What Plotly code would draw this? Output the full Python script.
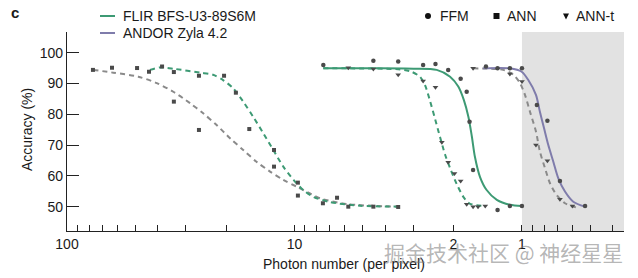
import plotly.graph_objects as go
import math

# ---------------- data ----------------
# FLIR BFS-U3-89S6M
flir_ffm_x = [7.47, 4.5, 3.5, 2.72, 2.40, 2.11, 1.86, 1.75, 1.70, 1.64, 1.28, 1.13, 1.0]
flir_ffm_y = [96.0, 97.4, 97.1, 96.0, 96.3, 94.4, 91.5, 87.3, 77.6, 61.9, 48.9, 50.2, 50.2]
flir_annt_x = [5.8, 4.5, 3.5, 2.72, 2.40, 2.25, 2.11, 1.98, 1.86, 1.75, 1.64, 1.56, 1.45]
flir_annt_y = [95.1, 94.7, 92.8, 90.8, 88.8, 70.9, 64.4, 60.8, 58.3, 50.8, 50.0, 50.0, 50.2]
flir_ann_x = [43.6, 38.2, 33.9, 26.3, 20.4, 18.1, 15.8, 12.3, 9.66, 6.5]
flir_ann_y = [93.8, 95.5, 93.7, 92.5, 92.5, 87.0, 75.2, 68.4, 57.8, 52.9]

# ANDOR Zyla 4.2
andor_ffm_x = [1.44, 1.28, 1.13, 1.0, 0.86, 0.773, 0.681, 0.528]
andor_ffm_y = [95.5, 94.9, 94.9, 94.9, 83.0, 77.9, 58.3, 50.2]
andor_annt_x = [1.64, 1.13, 1.0, 0.868, 0.773, 0.681, 0.60]
andor_annt_y = [94.9, 93.1, 90.6, 70.0, 64.9, 52.4, 50.2]
andor_ann_x = [76.9, 63.4, 49.2, 33.9, 26.3, 12.3, 9.66, 7.5, 5.8, 4.5, 3.5]
andor_ann_y = [94.4, 95.1, 95.0, 84.1, 74.9, 63.0, 53.6, 51.1, 50.0, 50.0, 49.9]

# fitted curves
flir_ann_fit_x = [43.2, 39.0, 33.5, 26.0, 22.8, 20.6, 18.6, 16.8, 15.2, 13.7, 12.4, 11.2, 10.1, 9.15, 8.27, 6.98, 5.15, 3.5]
flir_ann_fit_y = [94.4, 95.2, 94.7, 93.5, 92.8, 91.1, 88.4, 84.1, 79.2, 73.8, 68.4, 63.0, 58.7, 55.4, 53.2, 51.5, 50.3, 50.0]
andor_ann_fit_x = [76.6, 62.6, 48.6, 40.3, 34.1, 28.8, 25.2, 22.0, 19.2, 16.8, 14.7, 12.8, 11.2, 9.78, 8.55, 7.72, 5.8, 3.5]
andor_ann_fit_y = [94.4, 93.5, 92.2, 90.1, 87.3, 83.6, 80.3, 76.5, 72.2, 68.4, 64.6, 61.4, 58.7, 56.5, 54.3, 52.7, 50.8, 50.0]
flir_ffm_fit_x = [7.47, 4.5, 3.0, 2.37, 2.07, 1.905, 1.80, 1.72, 1.66, 1.61, 1.53, 1.43, 1.29, 1.13, 1.0]
flir_ffm_fit_y = [94.9, 94.9, 94.8, 94.4, 92.2, 89.0, 84.6, 79.2, 72.7, 66.2, 59.7, 55.4, 52.2, 50.6, 50.2]
flir_annt_fit_x = [7.47, 5.8, 3.5, 3.11, 2.81, 2.67, 2.54, 2.41, 2.29, 2.18, 2.07, 1.94, 1.81, 1.70, 1.45]
flir_annt_fit_y = [94.9, 94.9, 94.6, 94.0, 92.2, 89.5, 84.5, 78.5, 72.5, 67.0, 62.5, 57.5, 53.2, 51.0, 50.2]
andor_ffm_fit_x = [1.48, 1.13, 1.003, 0.938, 0.868, 0.834, 0.80, 0.766, 0.728, 0.692, 0.647, 0.595, 0.528]
andor_ffm_fit_y = [94.9, 94.9, 93.8, 91.1, 86.3, 80.8, 75.5, 70.0, 64.6, 59.2, 54.9, 51.6, 50.0]
andor_annt_fit_x = [1.64, 1.21, 1.09, 1.02, 0.97, 0.922, 0.868, 0.834, 0.792, 0.753, 0.704, 0.647, 0.575]
andor_annt_fit_y = [94.9, 94.4, 92.8, 90.1, 86.3, 80.8, 74.4, 67.9, 62.5, 57.6, 53.8, 51.1, 49.7]

x_tick_vals = [100, 90, 80, 70, 60, 50, 40, 30, 20, 10, 9, 8, 7, 6, 5, 4, 3, 2, 1, 0.9, 0.8, 0.7, 0.6, 0.5, 0.4]
x_tick_labels = {100: "100", 10: "10", 2: "2", 1: "1"}
y_tick_vals = [50, 60, 70, 80, 90, 100]

camera_names = ["FLIR BFS-U3-89S6M", "ANDOR Zyla 4.2"]
method_names = ["FFM", "ANN", "ANN-t"]
watermark = "掘金技术社区 @ 神经星星"

# ---------------- styles ----------------
W, H = 638, 278
ML, MR, MT, MB = 67, 14, 32, 47
GREEN = "#3d9a74"
PURPLE = "#7f7cab"
GRAYL = "#8a8a8a"
MK = "#4a4a4a"
FONT = "Liberation Sans, Arial, sans-serif"
X_RANGE = [2.0, math.log10(0.356)]
Y_RANGE = [42.1, 106.7]

fig = go.Figure()

def curve(x, y, color, dash):
    fig.add_trace(go.Scatter(x=x, y=y, mode="lines", line=dict(color=color, width=2, dash=dash,
                             shape="spline", smoothing=0.8), hoverinfo="skip", showlegend=False))

def pts(x, y, symbol, size):
    fig.add_trace(go.Scatter(x=x, y=y, mode="markers",
                             marker=dict(symbol=symbol, size=size, color=MK, line=dict(width=0)),
                             showlegend=False))

DASH = "5px,4px"
curve(andor_ann_fit_x, andor_ann_fit_y, GRAYL, DASH)
curve(flir_ann_fit_x, flir_ann_fit_y, GREEN, DASH)
curve(flir_annt_fit_x, flir_annt_fit_y, GREEN, DASH)
curve(flir_ffm_fit_x, flir_ffm_fit_y, GREEN, "solid")
curve(andor_annt_fit_x, andor_annt_fit_y, GRAYL, DASH)
curve(andor_ffm_fit_x, andor_ffm_fit_y, PURPLE, "solid")

pts(flir_ann_x, flir_ann_y, "square", 4)
pts(andor_ann_x, andor_ann_y, "square", 4)
pts(flir_ffm_x, flir_ffm_y, "circle", 4.5)
pts(andor_ffm_x, andor_ffm_y, "circle", 4.5)
pts(flir_annt_x, flir_annt_y, "triangle-down", 5)
pts(andor_annt_x, andor_annt_y, "triangle-down", 5)

pw, ph = W - ML - MR, H - MT - MB
def px(x):
    return (x - ML) / pw
def py(y):
    return (H - MB - y) / ph

shapes = []
# shaded region below 1 photon
shapes.append(dict(type="rect", xref="x domain", yref="y domain",
                   x0=(X_RANGE[0] - math.log10(1)) / (X_RANGE[0] - X_RANGE[1]), x1=1, y0=0, y1=1,
                   fillcolor="#e2e2e2", line=dict(width=0), layer="below"))
# legend line samples
for yy, col in [(16, GREEN), (33, PURPLE)]:
    shapes.append(dict(type="line", xref="paper", yref="paper", x0=px(100), x1=px(115),
                       y0=py(yy), y1=py(yy), line=dict(color=col, width=2)))
# marker legend symbols
shapes.append(dict(type="circle", xref="paper", yref="paper", x0=px(425), x1=px(431),
                   y0=py(19), y1=py(13), fillcolor="#111", line=dict(width=0)))
shapes.append(dict(type="rect", xref="paper", yref="paper", x0=px(493.5), x1=px(499.5),
                   y0=py(19), y1=py(13), fillcolor="#111", line=dict(width=0)))
shapes.append(dict(type="path", xref="paper", yref="paper",
                   path=f"M {px(563)} {py(13.5)} L {px(569)} {py(13.5)} L {px(566)} {py(19.5)} Z",
                   fillcolor="#111", line=dict(width=0)))

ann = []
def text(x, y, s, size=14, xanchor="left", **kw):
    ann.append(dict(x=px(x), y=py(y), xref="paper", yref="paper", text=s, showarrow=False,
                    xanchor=xanchor, yanchor="middle", font=dict(family=FONT, size=size, color=kw.pop("color", "#1a1a1a")), **kw))

text(9, 13, "<b>c</b>", size=15)
text(121, 16, camera_names[0])
text(121, 33, camera_names[1])
text(438, 16, method_names[0])
text(505, 16, method_names[1])
text(574, 16, method_names[2])
text(27, 130, "Accuracy (%)", xanchor="center", textangle=-90)
text(344, 264, "Photon number (per pixel)", xanchor="center")
ann.append(dict(x=px(503), y=py(252), xref="paper", yref="paper", text=watermark, showarrow=False,
                xanchor="center", yanchor="middle",
                font=dict(family="Noto Sans CJK SC", size=21, color="rgba(120,120,120,0.55)")))

fig.update_layout(
    width=W, height=H, margin=dict(l=ML, r=MR, t=MT, b=MB),
    paper_bgcolor="white", plot_bgcolor="white",
    shapes=shapes, annotations=ann, showlegend=False,
    font=dict(family=FONT, size=14, color="#1a1a1a"),
)
fig.update_xaxes(type="log", range=X_RANGE, showgrid=False, zeroline=False,
                 showline=True, linecolor="#222", linewidth=1.3,
                 ticks="inside", ticklen=6, tickwidth=1.2, tickcolor="#222",
                 tickvals=x_tick_vals, ticktext=[x_tick_labels.get(v, "") for v in x_tick_vals],
                 tickfont=dict(size=14))
fig.update_yaxes(range=Y_RANGE, showgrid=False, zeroline=False,
                 showline=True, linecolor="#222", linewidth=1.3,
                 ticks="inside", ticklen=12, tickwidth=1.2, tickcolor="#222",
                 tickvals=y_tick_vals, tickfont=dict(size=14))

fig.write_html("out.html")
